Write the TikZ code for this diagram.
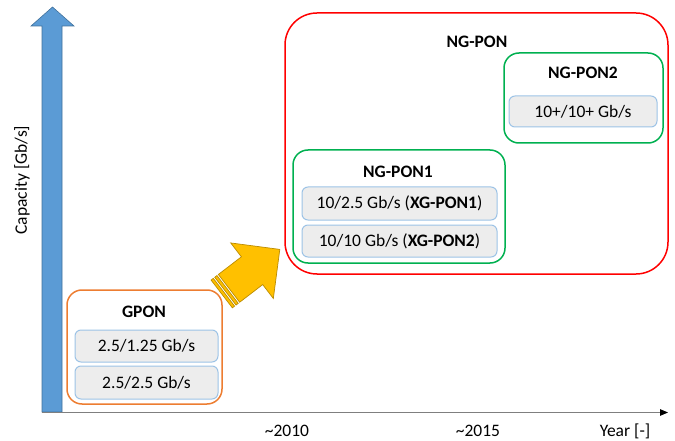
\documentclass[tikz,border=0pt]{standalone}
\usepackage{fontspec}
\setmainfont{Carlito}
\usetikzlibrary{arrows.meta}
\definecolor{blueA}{HTML}{5B9BD5}
\definecolor{blueB}{HTML}{41719C}
\definecolor{orangeA}{HTML}{ED7D31}
\definecolor{greenA}{HTML}{00B050}
\definecolor{redA}{HTML}{FF0000}
\definecolor{grayFill}{HTML}{EDEDED}
\definecolor{lightBlue}{HTML}{9DC3E6}
\definecolor{goldA}{HTML}{FFC000}
\definecolor{goldB}{HTML}{BC8C00}
\definecolor{axisGray}{HTML}{7F7F7F}
\tikzset{
  txt/.style={font=\fontsize{17.5}{20}\selectfont, text=black, inner sep=0pt},
  ttl/.style={txt, font=\fontsize{17.5}{20}\selectfont\bfseries},
  group/.style={draw, line width=1.5pt, rounded corners=15pt, inner sep=0pt},
  ratebox/.style={draw=lightBlue, fill=grayFill, line width=1pt, rounded corners=6pt, inner sep=0pt, txt},
}
\begin{document}
\begin{tikzpicture}[x=1pt,y=-1pt]
\useasboundingbox (0,0) rectangle (675,441);
% vertical capacity arrow
\draw[fill=blueA, draw=blueB, line width=0.6pt]
  (42,412) -- (42,26) -- (31,26) -- (52.5,7) -- (74,26) -- (62,26) -- (62,412) -- cycle;
% horizontal axis
\coordinate (xstart) at (42,412.5);
\coordinate (xend) at (668,412.5);
\draw[axisGray, line width=1pt, -{Triangle[length=8pt,width=6.5pt,black]}] (xstart) -- (xend);
\node[txt, anchor=base] (t2010) at (287,436.5) {\textasciitilde 2010};
\node[txt, anchor=base] (t2015) at (478,436.5) {\textasciitilde 2015};
\node[txt, anchor=base] (year) at (625,436.5) {Year [-]};
\node[txt, rotate=90] (cap) at (22,180) {Capacity [Gb/s]};
% GPON
\node[group, draw=orangeA, minimum width=155pt, minimum height=114pt] (gpon) at (144.5,347) {};
\node[ttl] (gponlbl) at (144,312) {GPON};
\node[ratebox, minimum width=143pt, minimum height=32pt] (g1) at (146.5,346) {2.5/1.25 Gb/s};
\node[ratebox, minimum width=143pt, minimum height=33pt] (g2) at (146.5,382.5) {2.5/2.5 Gb/s};
% NG-PON
\node[group, draw=redA, rounded corners=32pt, minimum width=383pt, minimum height=261pt] (ngpon) at (476.5,143.5) {};
\node[ttl] (ngponlbl) at (477,42) {NG-PON};
% NG-PON1
\node[group, draw=greenA, minimum width=212pt, minimum height=113pt] (ng1) at (399,206.5) {};
\node[ttl] (ng1lbl) at (398,172) {NG-PON1};
\node[ratebox, minimum width=195pt, minimum height=33pt] (n11) at (399.5,203.5) {10/2.5 Gb/s (\textbf{XG-PON1})};
\node[ratebox, minimum width=195pt, minimum height=32pt] (n12) at (399.5,241) {10/10 Gb/s (\textbf{XG-PON2})};
% NG-PON2
\node[group, draw=greenA, minimum width=159pt, minimum height=90pt] (ng2) at (583.5,98) {};
\node[ttl] (ng2lbl) at (583,73) {NG-PON2};
\node[ratebox, minimum width=148pt, minimum height=31pt] (n21) at (583,111.5) {10+/10+ Gb/s};
% striped yellow arrow
\begin{scope}[shift={(279.8,249.4)}, rotate=37.5]
  \draw[fill=goldA, draw=goldB, line width=0.7pt, line join=miter]
    (0,0) -- (-35,35) -- (-35,17.5) -- (-64,17.5) -- (-64,-17.5) -- (-35,-17.5) -- (-35,-35) -- cycle;
  \draw[fill=goldA, draw=goldB, line width=0.7pt] (-65.8,17.5) rectangle (-68.6,-17.5);
  \draw[fill=goldA, draw=goldB, line width=0.7pt] (-70.4,17.5) rectangle (-73.2,-17.5);
\end{scope}
\end{tikzpicture}
\end{document}
